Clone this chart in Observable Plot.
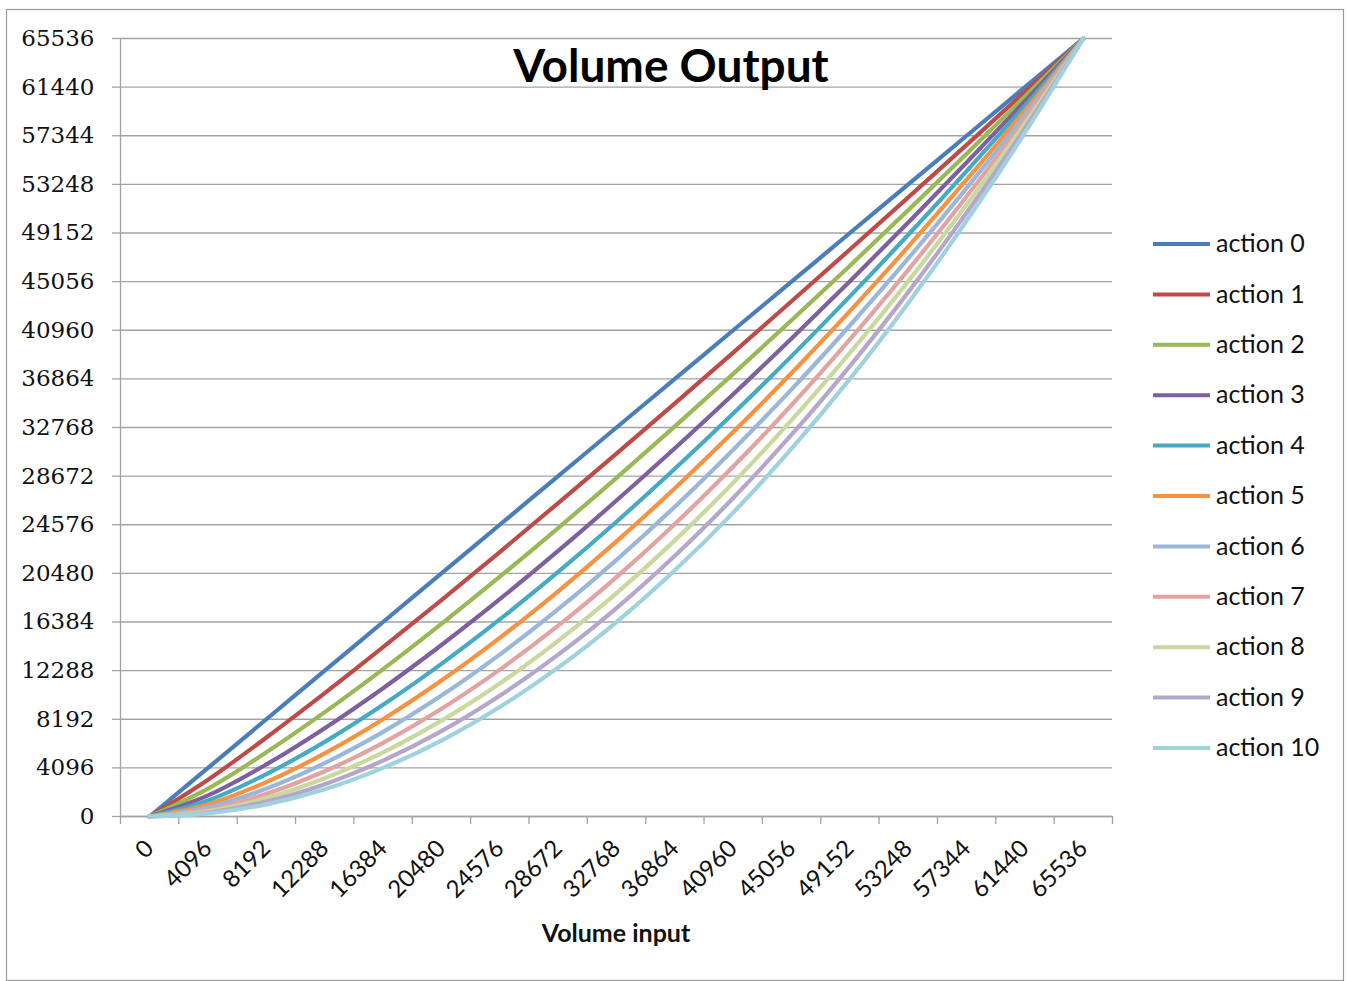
<!DOCTYPE html>
<html>
<head>
<meta charset="utf-8">
<script src="https://cdn.jsdelivr.net/npm/d3@7"></script>
<script src="https://cdn.jsdelivr.net/npm/@observablehq/plot@0.6"></script>
<style>
  html, body { margin: 0; padding: 0; background: #fff; }
  #chart { position: relative; width: 1348px; height: 981px; }
</style>
</head>
<body>
<div id="chart"></div>
<script>
// ---- Data ----
const titleText = "Volume Output";
const xTitle = "Volume input";
const xLabels = ["0","4096","8192","12288","16384","20480","24576","28672","32768","36864","40960","45056","49152","53248","57344","61440","65536"];
const yTicks = [0,4096,8192,12288,16384,20480,24576,28672,32768,36864,40960,45056,49152,53248,57344,61440,65536];
const seriesNames = ["action 0","action 1","action 2","action 3","action 4","action 5","action 6","action 7","action 8","action 9","action 10"];
const seriesColors = ["#4A7EBB","#BE4B48","#98B954","#7D60A0","#46AAC5","#F69240","#9AB7DB","#E2A3A1","#C9D99D","#B5A7CC","#9ED2DF"];

const action0  = [0,4096,8192,12288,16384,20480,24576,28672,32768,36864,40960,45056,49152,53248,57344,61440,65536];
const action1  = [0,3100,6650,10390,14260,18230,22280,26400,30570,34800,39080,43400,47760,52150,56580,61050,65536];
const action2  = [0,2350,5410,8790,12420,16230,20200,24300,28530,32860,37290,41800,46400,51080,55830,60650,65536];
const action3  = [0,1780,4390,7440,10810,14450,18310,22370,26620,31020,35570,40270,45090,50030,55090,60260,65536];
const action4  = [0,1350,3570,6290,9410,12860,16600,20600,24830,29290,33940,38780,43810,49000,54360,59870,65536];
const action5  = [0,1020,2900,5320,8190,11450,15050,18970,23170,27650,32380,37360,42570,48000,53640,59490,65536];
const action6  = [0,780,2350,4500,7130,10190,13640,17460,21620,26100,30900,35980,41360,47010,52930,59110,65536];
const action7  = [0,590,1910,3810,6210,9070,12370,16070,20170,24640,29480,34660,40190,46050,52230,58730,65536];
const action8  = [0,450,1550,3220,5410,8080,11210,14800,18820,23260,28120,33390,39050,45100,51540,58350,65536];
const action9  = [0,340,1260,2720,4710,7190,10170,13630,17560,21960,26830,32160,37940,44170,50850,57970,65536];
const action10 = [0,260,1020,2300,4100,6400,9220,12540,16380,20740,25600,30980,36860,43260,50180,57600,65536];

const seriesValues = [action0,action1,action2,action3,action4,action5,action6,action7,action8,action9,action10];

// Build tidy table
const rows = [];
seriesValues.forEach((vals, s) => {
  vals.forEach((v, i) => rows.push({series: seriesNames[s], i, v}));
});
const catIdx = xLabels.map((_, i) => i);
const catBounds = d3.range(xLabels.length + 1).map(i => i - 0.5);

const grey = "#a3a3a3";

const chart = Plot.plot({
  width: 1348,
  height: 981,
  marginLeft: 120,
  marginRight: 236,
  marginTop: 38,
  marginBottom: 165,
  style: {background: "#fff", overflow: "visible"},
  x: {type: "linear", domain: [-0.5, xLabels.length - 0.5], label: null},
  y: {domain: [0, 65536], label: null},
  color: {domain: seriesNames, range: seriesColors},
  marks: [
    Plot.gridY(yTicks, {stroke: grey, strokeOpacity: 1, strokeWidth: 1.3}),
    Plot.ruleX([-0.5], {stroke: grey, strokeWidth: 1.3}),
    Plot.ruleY([0], {stroke: grey, strokeWidth: 1.3}),
    Plot.axisY(yTicks, {
      tickSize: 8, tickPadding: 18, stroke: grey, strokeWidth: 1.3, fill: "#111",
      tickFormat: d => String(d), fontFamily: "DejaVu Serif", fontSize: 23, label: null
    }),
    Plot.axisX(catBounds, {tickSize: 8, stroke: grey, strokeWidth: 1.3, tickFormat: () => "", label: null}),
    Plot.axisX(catIdx, {
      tickSize: 0, tickPadding: 28, tickRotate: -45, fill: "#111",
      tickFormat: i => xLabels[i], fontFamily: "Lato", fontSize: 24, label: null
    }),
    Plot.line(rows, {x: "i", y: "v", z: "series", stroke: "series", strokeWidth: 4.2, curve: "catmull-rom"})
  ]
});

const svg = d3.select(chart);
// outer chart border
svg.insert("rect", ":first-child")
  .attr("x", 6.5).attr("y", 9.5).attr("width", 1337).attr("height", 971)
  .attr("fill", "#fff").attr("stroke", "#9a9a9a").attr("stroke-width", 1.2);
// title
svg.append("text").attr("x", 671).attr("y", 82).attr("text-anchor", "middle")
  .attr("font-family", "Lato").attr("font-weight", "bold").attr("font-size", 46)
  .attr("fill", "#000").text(titleText);
// x axis title
svg.append("text").attr("x", 616).attr("y", 942).attr("text-anchor", "middle")
  .attr("font-family", "Lato").attr("font-weight", "bold").attr("font-size", 25)
  .attr("fill", "#111").text(xTitle);
// legend
const lg = svg.append("g").attr("text-anchor", "start");
seriesNames.forEach((n, k) => {
  const y = 244 + k * 50.4;
  lg.append("line").attr("x1", 1153).attr("x2", 1210).attr("y1", y).attr("y2", y)
    .attr("stroke", seriesColors[k]).attr("stroke-width", 4);
  lg.append("text").attr("x", 1216).attr("y", y).attr("dy", "0.33em")
    .attr("text-anchor", "start")
    .attr("font-family", "Lato").attr("font-size", 25).attr("fill", "#111").text(n);
});

document.getElementById("chart").appendChild(chart);
</script>
</body>
</html>
